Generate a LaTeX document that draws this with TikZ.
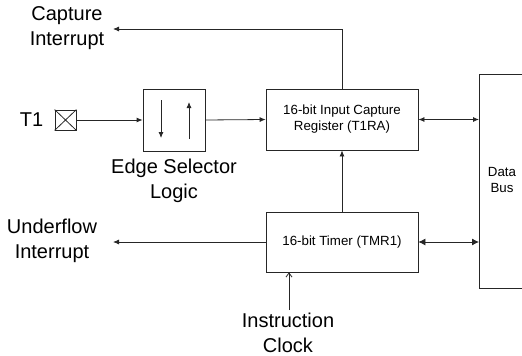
\documentclass[tikz,border=0pt]{standalone}
\usepackage{fontspec}
\setmainfont{Liberation Sans}
\usetikzlibrary{arrows.meta}

\begin{document}
\begin{tikzpicture}[x=1pt, y=-1pt,
        line width=0.8pt, draw=black!85,
        >={Latex[length=6pt, width=5pt]},
        block/.style={draw, rectangle, inner sep=0pt},
        biglabel/.style={align=center, font=\fontsize{20}{24.5}\selectfont},
        smalllabel/.style={align=center, font=\fontsize{13.3}{16}\selectfont}]
        \useasboundingbox (0,0) rectangle (522,356);

        % Blocks
        \node[block, minimum width=21pt, minimum height=20pt] (pin) at (65.5,120) {};
        \node[block, minimum width=62pt, minimum height=62pt] (edge) at (174,120) {};
        \node[block, smalllabel, minimum width=152pt, minimum height=61pt] (reg) at (342,119.5) {16-bit Input Capture\\Register (T1RA)};
        \node[block, smalllabel, minimum width=152pt, minimum height=60pt] (timer) at (342,242) {16-bit Timer (TMR1)};
        \node[block, minimum width=90pt, minimum height=214pt, anchor=north west] (bus) at (479,74) {};
        \node[smalllabel] (bustext) at (502,180) {Data\\Bus};

        % Pin cross
        \draw (pin.north west) -- (pin.south east);
        \draw (pin.south west) -- (pin.north east);

        % Edge selector arrows
        \draw[->] (161,100) -- (161,138);
        \draw[->] (189,139) -- (189,102);

        % Labels
        \node[biglabel] (t1) at (31.5,120) {T1};
        \node[biglabel] (edgetext) at (174,181) {Edge Selector\\Logic};
        \node[biglabel] (capttext) at (67,28) {Capture\\Interrupt};
        \node[biglabel] (undertext) at (52,241) {Underflow\\Interrupt};
        \node[biglabel] (clktext) at (288,333) {Instruction\\Clock};

        % Free ends
        \coordinate (capt) at (113,29);
        \coordinate (under) at (113,242);
        \coordinate (clk) at (289,310);

        % Connectors
        \draw[->] (pin.east) -- (edge.west);
        \draw[->] (edge.east) -- (reg.west);
        \draw[->] (reg.north) |- (capt);
        \draw[->] (timer.north) -- (reg.south);
        \draw[->] (timer.west) -- (under);
        \draw[-{Straight Barb[length=4pt, width=6pt]}] (clk) -- (clk |- timer.south);
        \draw[<->] (reg.east) -- (reg.east -| bus.west);
        \draw[{Latex[length=7pt, width=7pt]}-{Latex[length=7pt, width=7pt]}] (timer.east) -- (timer.east -| bus.west);
    \end{tikzpicture}
\end{document}
